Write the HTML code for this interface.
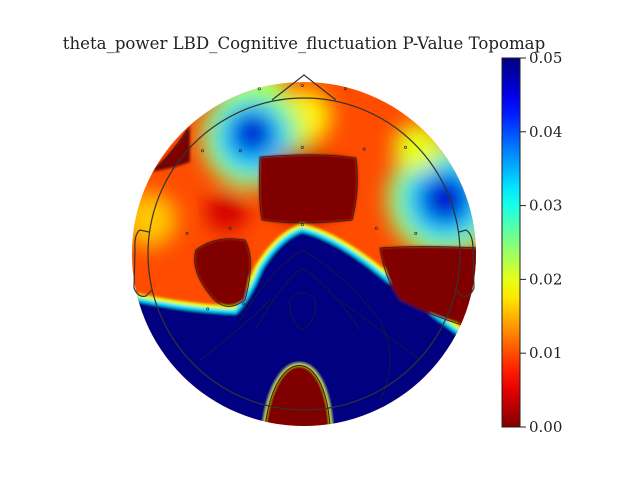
<!DOCTYPE html>
<html><head><meta charset="utf-8"><style>
html,body{margin:0;padding:0;background:#fff}
svg{display:block}
text{font-family:"DejaVu Serif","Liberation Serif",serif;fill:#222}
</style></head><body>
<svg id="chart" width="640" height="480" viewBox="0 0 640 480">
<defs>
<clipPath id="headclip"><circle cx="304" cy="254" r="172"/></clipPath>
<filter id="soft" x="-50%" y="-50%" width="200%" height="200%"><feGaussianBlur stdDeviation="10"/></filter>
<filter id="edge"><feGaussianBlur stdDeviation="1.2"/></filter>
<linearGradient id="cbgrad" x1="0" y1="1" x2="0" y2="0"></linearGradient>
</defs>
<text x="304" y="49" text-anchor="middle" font-size="16.6">theta_power LBD_Cognitive_fluctuation P-Value Topomap</text>
<g clip-path="url(#headclip)">
  <rect id="base" x="120" y="70" width="370" height="370"/>
  <g id="softblobs" filter="url(#soft)"></g>
  <g id="sharp" filter="url(#edge)"></g>
</g>
<g id="contours" fill="none" stroke="#222" stroke-width="0.8" clip-path="url(#headclip)">
  <path d="M260,157 Q258,200 262,220 Q300,226 352,220 Q360,190 356,158 Q320,152 260,157 Z"/>
  <path d="M196,250 Q215,235 245,240 Q256,260 245,300 Q225,315 210,295 Q190,270 196,250 Z"/>
  <path d="M380,248 Q420,245 480,248 L480,330 Q440,320 400,300 Q385,280 380,248 Z"/>
  <path d="M157,168 Q175,150 187,130 L187,160 Q175,165 157,168 Z"/>
  <path d="M265,427 C 275,345 325,345 330,427" stroke-width="1"/>
  <path d="M240,320 Q270,270 302,250 Q340,270 380,320 Q400,360 380,400" stroke-width="0.6"/>
  <path d="M255,330 Q280,285 302,268 Q330,285 360,330" stroke-width="0.6"/>
  <path d="M290,300 Q302,285 315,300 Q318,320 302,330 Q288,320 290,300 Z" stroke-width="0.6"/>
  <path d="M200,360 Q240,330 270,300" stroke-width="0.6"/>
  <path d="M340,300 Q380,330 420,360" stroke-width="0.6"/>
</g>
<g id="head" fill="none" stroke="#333" stroke-width="1.2">
  <circle cx="304" cy="254" r="156"/>
  <path d="M272,100 L304,75 L336,100"/>
  <path d="M149,232 L140,230 Q134,234 135,250 L134,288 Q138,298 146,296 L152,290"/>
  <path d="M459,232 L466,230 Q473,234 473,250 L474,288 Q470,298 462,296 L456,290"/>
</g>
<g id="electrodes"></g>
<g id="colorbar">
  <rect x="502" y="58" width="18" height="369" fill="url(#cbgrad)" stroke="#222" stroke-width="1"/>
</g>
</svg>
<script>
var cbTicks = [0.00, 0.01, 0.02, 0.03, 0.04, 0.05];
var cbLabels = ["0.00", "0.01", "0.02", "0.03", "0.04", "0.05"];
var pMax = 0.05;
var baseP = 0.010;
// soft blobs: head coords (-1..1), radius (head units), p-value
var blobX = [-0.90, -0.30, 0.0, -0.30, -0.30, -0.30, 0.82, 0.82, 0.82, 0.66, 0.0, -0.45];
var blobY = [-0.20, -0.92, -0.80, -0.68, -0.68, -0.70, -0.32, -0.32, -0.32, -0.62, -0.40, -0.25];
var blobR = [0.16, 0.20, 0.16, 0.30, 0.21, 0.12, 0.34, 0.24, 0.14, 0.14, 0.22, 0.12];
var blobP = [0.016, 0.022, 0.018, 0.024, 0.034, 0.046, 0.024, 0.034, 0.046, 0.020, 0.003, 0.004];
// electrode positions (head coords)
var elecX = [-0.26, -0.01, 0.24, -0.59, -0.37, -0.01, 0.35, 0.59, -0.68, -0.43, -0.01, 0.42, 0.65, -0.56, -0.35];
var elecY = [-0.96, -0.98, -0.96, -0.60, -0.60, -0.62, -0.61, -0.62, -0.12, -0.15, -0.17, -0.15, -0.12, 0.32, 0.29];

var NS = "http://www.w3.org/2000/svg";
var cx0 = 304, cy0 = 254, R = 172;
function hx(v){ return cx0 + v * R; }
function hy(v){ return cy0 + v * R; }
function cbY(v){ return 427 - (v / pMax) * 369; }
function clamp(a){ return Math.max(0, Math.min(1, a)); }
function pColor(p){
  var t = 1 - p / pMax;
  var r = clamp(1.5 - Math.abs(4*t - 3)), g = clamp(1.5 - Math.abs(4*t - 2)), b = clamp(1.5 - Math.abs(4*t - 1));
  return "rgb(" + Math.round(r*255) + "," + Math.round(g*255) + "," + Math.round(b*255) + ")";
}
document.getElementById("base").setAttribute("fill", pColor(baseP));

var soft = document.getElementById("softblobs");
for (var i = 0; i < blobX.length; i++) {
  var c = document.createElementNS(NS, "circle");
  c.setAttribute("cx", hx(blobX[i]));
  c.setAttribute("cy", hy(blobY[i]));
  c.setAttribute("r", blobR[i] * R);
  c.setAttribute("fill", pColor(blobP[i]));
  
  
  soft.appendChild(c);
}

var sharp = document.getElementById("sharp");
function addPath(d, fill, stroke, sw, name){
  var p = document.createElementNS(NS, "path");
  p.setAttribute("d", d);
  p.setAttribute("fill", fill);
  p.setAttribute("stroke", stroke);
  p.setAttribute("stroke-width", sw);
  
  
  sharp.appendChild(p);
}
var blueD = "M120,296 L140,302 Q190,312 236,314 Q250,300 262,270 Q280,240 302,232 Q330,238 370,268 Q410,300 460,336 L490,350 L490,450 L120,450 Z";
addPath(blueD, "none", pColor(0.02), 16, "transition-yellow");
addPath(blueD, "none", pColor(0.033), 8, "transition-cyan");
addPath(blueD, pColor(0.05), "none", 0, "high-p-region");
var archD = "M262,440 L265,427 C 275,345 325,345 330,427 L333,440 Z";
addPath(archD, "none", pColor(0.02), 4, "arch-edge-yellow");
addPath(archD, pColor(0), "none", 0, "bottom-sig-region");
addPath("M260,157 Q258,200 262,220 Q300,226 352,220 Q360,190 356,158 Q320,152 260,157 Z", pColor(0), "none", 0, "central-sig-region");
addPath("M196,250 Q215,235 245,240 Q256,260 245,300 Q225,315 210,295 Q190,270 196,250 Z", pColor(0), "none", 0, "left-sig-region");
addPath("M380,248 Q420,245 480,248 L480,330 Q440,320 400,300 Q385,280 380,248 Z", pColor(0), "none", 0, "right-sig-region");
addPath("M150,172 Q175,150 190,125 L190,162 Q175,168 150,172 Z", pColor(0), "none", 0, "frontal-left-sig-region");

var eg = document.getElementById("electrodes");
for (var j = 0; j < elecX.length; j++) {
  var e = document.createElementNS(NS, "circle");
  e.setAttribute("cx", hx(elecX[j]));
  e.setAttribute("cy", hy(elecY[j]));
  e.setAttribute("r", 1.2);
  e.setAttribute("fill", "none");
  e.setAttribute("stroke", "#222");
  e.setAttribute("stroke-width", 0.6);
  
  
  eg.appendChild(e);
}

var grad = document.getElementById("cbgrad");
for (var k = 0; k <= 20; k++) {
  var s = document.createElementNS(NS, "stop");
  s.setAttribute("offset", (k/20));
  s.setAttribute("stop-color", pColor(pMax * k / 20));
  grad.appendChild(s);
}
var cb = document.getElementById("colorbar");
for (var m = 0; m < cbTicks.length; m++) {
  var y = cbY(cbTicks[m]);
  var ln = document.createElementNS(NS, "line");
  ln.setAttribute("x1", 520); ln.setAttribute("x2", 526);
  ln.setAttribute("y1", y); ln.setAttribute("y2", y);
  ln.setAttribute("stroke", "#222"); ln.setAttribute("stroke-width", 1);
  
  
  cb.appendChild(ln);
  var t = document.createElementNS(NS, "text");
  t.setAttribute("x", 529); t.setAttribute("y", y + 5);
  t.setAttribute("font-size", "15");
  t.textContent = cbLabels[m];
  
  
  cb.appendChild(t);
}
</script>
</body></html>
